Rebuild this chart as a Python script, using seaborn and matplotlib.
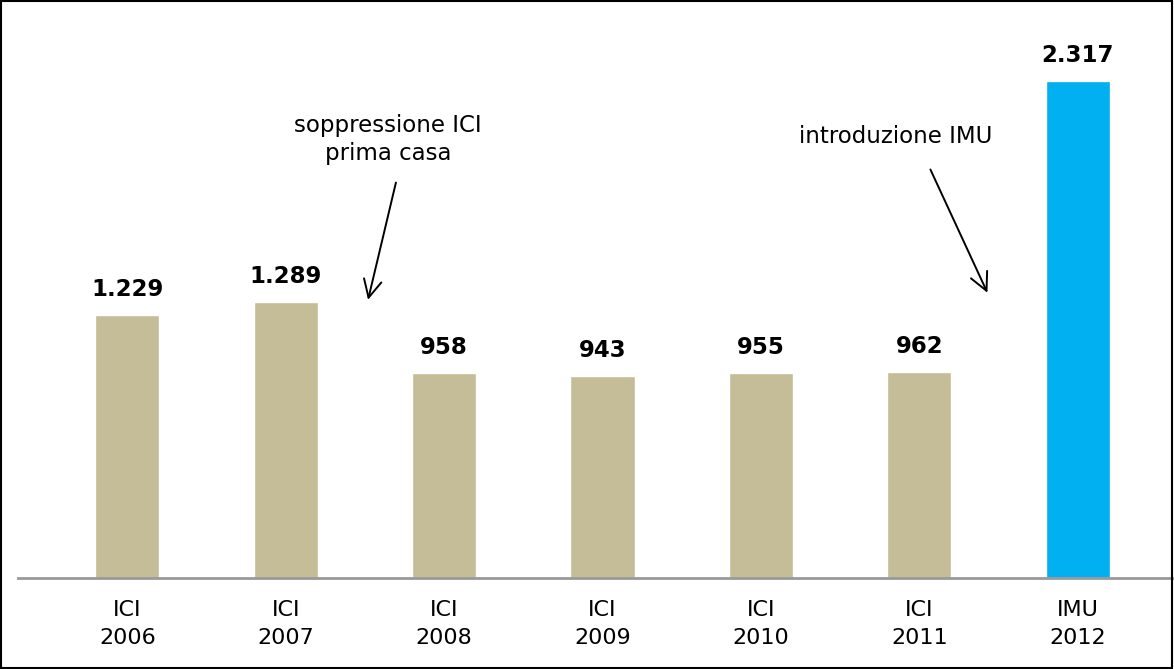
import pandas as pd
import matplotlib.pyplot as plt
import matplotlib.patches as mpatches
import seaborn as sns

# dati
labels = ['ICI\n2006', 'ICI\n2007', 'ICI\n2008', 'ICI\n2009', 'ICI\n2010', 'ICI\n2011', 'IMU\n2012']
values = [1229, 1289, 958, 943, 955, 962, 2317]
value_text = ['1.229', '1.289', '958', '943', '955', '962', '2.317']
colors = ['#C4BD97'] * 6 + ['#00B0F0']

df = pd.DataFrame({'anno': labels, 'gettito': values})

sns.set_style('white')
plt.rcParams['font.family'] = ['DejaVu Sans']
plt.rcParams['text.color'] = 'black'
plt.rcParams['xtick.color'] = 'black'

fig = plt.figure(figsize=(11.74, 6.69), dpi=100)
ax = fig.add_axes([0.0153, 0.136, 0.985, 0.849])

sns.barplot(data=df, x='anno', y='gettito', hue='anno', palette=colors,
            width=0.405, legend=False, ax=ax, saturation=1)

ax.set_xlim(-0.69, 6.61)
ax.set_ylim(0, 2650)

# etichette valori
for i, (v, t) in enumerate(zip(values, value_text)):
    ax.text(i, v + 65, t, ha='center', va='bottom', fontsize=16.5, fontweight='bold', color='black')

# annotazioni
arrow = dict(arrowstyle='->', color='black', lw=1.4, mutation_scale=32, shrinkA=0, shrinkB=0)
ax.text(1.646, 2046, 'soppressione ICI\nprima casa', ha='center', va='center',
        fontsize=16.5, linespacing=1.25, color='black')
ax.annotate('', xy=(1.52, 1298), xytext=(1.696, 1845), arrowprops=arrow)
ax.text(4.848, 2060, 'introduzione IMU', ha='center', va='center', fontsize=16.5, color='black')
ax.annotate('', xy=(5.43, 1331), xytext=(5.07, 1906), arrowprops=arrow)

ax.set_xlabel('')
ax.set_ylabel('')
ax.set_yticks([])
ax.tick_params(axis='x', length=0, labelsize=16, pad=16, labelcolor='black')
for lbl in ax.get_xticklabels():
    lbl.set_linespacing(1.5)
for s in ['top', 'right', 'left']:
    ax.spines[s].set_visible(False)
ax.spines['bottom'].set_color('#999999')
ax.spines['bottom'].set_linewidth(2)

# cornice
fig.patches.append(mpatches.Rectangle((0.001, 0.001), 0.997, 0.997, transform=fig.transFigure,
                                      fill=False, edgecolor='black', linewidth=1.5))

fig.savefig('out.png', dpi=100)
